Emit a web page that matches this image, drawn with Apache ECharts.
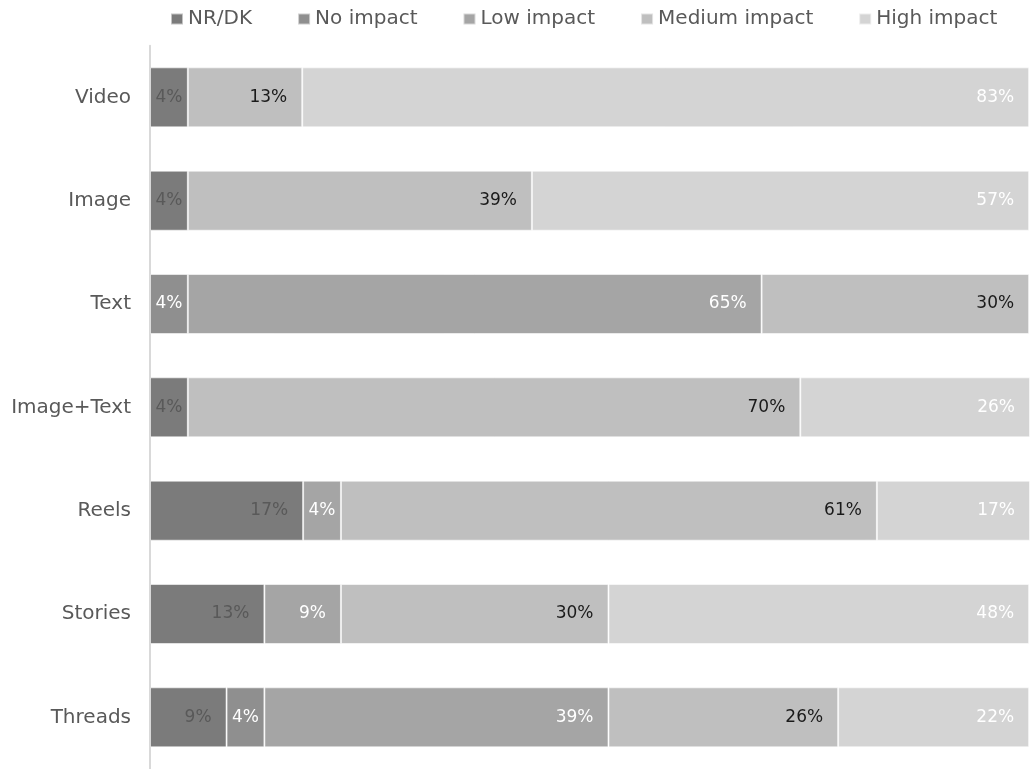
<!DOCTYPE html>
<html>
<head>
<meta charset="utf-8">
<script src="https://cdn.jsdelivr.net/npm/echarts@6/dist/echarts.min.js"></script>
<style>
html,body{margin:0;padding:0;background:#fff;}
#chart{width:1030px;height:769px;}
</style>
</head>
<body>
<div id="chart"></div>
<script>
const categories = ['Video', 'Image', 'Text', 'Image+Text', 'Reels', 'Stories', 'Threads'];
const seriesNames = ['NR/DK', 'No impact', 'Low impact', 'Medium impact', 'High impact'];
const nrdk         = [4.3, 4.3, 0, 4.3, 17.4, 13.0, 8.7];
const noImpact     = [0, 0, 4.3, 0, 0, 0, 4.3];
const lowImpact    = [0, 0, 65.2, 0, 4.3, 8.7, 39.1];
const mediumImpact = [13.0, 39.1, 30.4, 69.6, 60.9, 30.4, 26.1];
const highImpact   = [82.6, 56.5, 0, 26.1, 17.4, 47.8, 21.7];

const seriesValues = [nrdk, noImpact, lowImpact, mediumImpact, highImpact];
const colors = ['#7b7b7b', '#8f8f8f', '#a5a5a5', '#bfbfbf', '#d4d4d4'];
const labelColors = ['#595959', '#ffffff', '#ffffff', '#1a1a1a', '#ffffff'];
const FONT = 'DejaVu Sans';

const chart = echarts.init(document.getElementById('chart'), null, {renderer: 'canvas'});

const series = seriesNames.map((name, i) => ({
  name: name,
  type: 'bar',
  stack: 'total',
  barWidth: 60,
  itemStyle: {color: colors[i], borderColor: 'rgba(255,255,255,0.55)', borderWidth: 1},
  label: {
    show: true,
    position: 'insideRight',
    distance: 15,
    color: labelColors[i],
    fontFamily: FONT,
    fontSize: 17,
    formatter: p => (p.value === '-' || p.value == null || p.value === 0) ? '' : Math.round(p.value) + '%'
  },
  emphasis: {disabled: true},
  data: seriesValues[i].map(v => v === 0 ? '-' : {
    value: v,
    label: v < 6 ? {position: 'inside'} : {}
  })
}));

chart.setOption({
  animation: false,
  backgroundColor: '#ffffff',
  textStyle: {fontFamily: FONT},
  legend: {
    data: seriesNames,
    top: 4,
    left: 165,
    itemWidth: 12,
    itemHeight: 11,
    itemGap: 45,
    icon: 'rect',
    textStyle: {color: '#595959', fontSize: 20, fontFamily: FONT}
  },
  grid: {left: 150, width: 880, top: 45.7, height: 732.7},
  xAxis: {
    type: 'value',
    min: 0,
    max: 100,
    show: false
  },
  yAxis: {
    type: 'category',
    data: categories,
    inverse: true,
    axisLine: {show: true, lineStyle: {color: '#d9d9d9', width: 2}},
    axisTick: {show: false},
    axisLabel: {color: '#595959', fontSize: 20, fontFamily: FONT, margin: 19}
  },
  series: series
});
</script>
</body>
</html>
